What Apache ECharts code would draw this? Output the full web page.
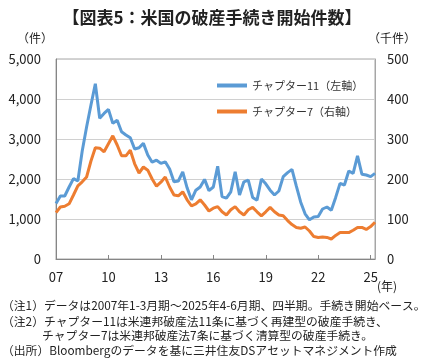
<!DOCTYPE html>
<html><head><meta charset="utf-8">
<script src="https://cdn.jsdelivr.net/npm/echarts@6/dist/echarts.min.js"></script>
<style>html,body{margin:0;padding:0;background:#fff}#c{width:424px;height:360px}</style>
</head><body><div id="c"></div>
<script>
const categories = [
'2007Q1','2007Q2','2007Q3','2007Q4','2008Q1','2008Q2','2008Q3','2008Q4','2009Q1','2009Q2','2009Q3','2009Q4',
'2010Q1','2010Q2','2010Q3','2010Q4','2011Q1','2011Q2','2011Q3','2011Q4','2012Q1','2012Q2','2012Q3','2012Q4',
'2013Q1','2013Q2','2013Q3','2013Q4','2014Q1','2014Q2','2014Q3','2014Q4','2015Q1','2015Q2','2015Q3','2015Q4',
'2016Q1','2016Q2','2016Q3','2016Q4','2017Q1','2017Q2','2017Q3','2017Q4','2018Q1','2018Q2','2018Q3','2018Q4',
'2019Q1','2019Q2','2019Q3','2019Q4','2020Q1','2020Q2','2020Q3','2020Q4','2021Q1','2021Q2','2021Q3','2021Q4',
'2022Q1','2022Q2','2022Q3','2022Q4','2023Q1','2023Q2','2023Q3','2023Q4','2024Q1','2024Q2','2024Q3','2024Q4',
'2025Q1','2025Q2'];
// Chapter 11 (cases, left axis)
const chapter11 = [1390,1575,1575,1800,2010,1950,2700,3300,3850,4380,
3520,3640,3740,3390,3470,3180,3100,3030,2750,2780,
2890,2600,2420,2470,2390,2430,2250,1930,1950,2180,
1780,1480,1720,1800,1990,1710,1800,2320,1560,1520,
1680,2180,1600,1930,1970,1540,1470,2000,1880,1720,
1600,1700,2060,2160,2240,1820,1420,1130,980,1050,
1060,1250,1300,1220,1540,1890,1850,2200,2140,2580,
2120,2100,2060,2140];
// Chapter 7 (thousand cases, right axis)
const chapter7 = [116,130,132,138,160,183,193,205,245,278,
277,268,288,308,285,258,258,272,238,215,
230,222,200,182,192,205,180,160,158,168,
148,133,138,148,135,120,127,131,118,110,
123,131,118,110,123,129,118,108,118,129,
118,110,108,96,86,79,77,80,70,56,
54,55,54,50,59,66,66,66,72,79,
79,74,81,92];
const xTickLabels = ['07','10','13','16','19','22','25'];
const seriesNames = ['チャプター11（左軸）','チャプター7（右軸）'];
const notes = [
'（注1）データは2007年1-3月期～2025年4-6月期、四半期。手続き開始ベース。',
'（注2）チャプター11は米連邦破産法11条に基づく再建型の破産手続き、',
'チャプター7は米連邦破産法7条に基づく清算型の破産手続き。',
'（出所）Bloombergのデータを基に三井住友DSアセットマネジメント作成'];

const FONT = '"Noto Sans CJK JP","Noto Sans",sans-serif';
const chart = echarts.init(document.getElementById('c'), null, {renderer:'canvas'});
chart.setOption({
  animation:false,
  backgroundColor:'#fff',
  grid:{left:56, right:49, top:59, bottom:101, show:true, borderColor:'#a6a6a6', borderWidth:1},
  legend:{
    orient:'vertical', left:212, top:75, itemWidth:30, itemHeight:4, itemGap:15, icon:'rect',
    textStyle:{fontSize:11, color:'#333', fontFamily:FONT}, data:seriesNames
  },
  xAxis:{
    type:'category', data:categories, boundaryGap:false,
    axisLine:{lineStyle:{color:'#868686', width:1}},
    axisTick:{inside:true, interval:11, length:4, lineStyle:{color:'#868686'}},
    axisLabel:{interval:11, color:'#222', fontSize:13, fontFamily:FONT, margin:12,
      formatter:(v,i)=>xTickLabels[Math.round(i/12)]},
    splitLine:{show:false}
  },
  yAxis:[
    {type:'value', min:0, max:5000, interval:1000,
     axisLine:{show:true, lineStyle:{color:'#868686'}}, axisTick:{show:false},
     axisLabel:{color:'#222', fontSize:13, fontFamily:FONT, margin:15, formatter:v=>v.toLocaleString('en-US')},
     splitLine:{lineStyle:{color:'#d0d0d0', width:1}}},
    {type:'value', min:0, max:500, interval:100,
     axisLine:{show:true, lineStyle:{color:'#a6a6a6'}}, axisTick:{show:false},
     axisLabel:{color:'#222', fontSize:13, fontFamily:FONT, margin:12},
     splitLine:{show:false}}
  ],
  series:[
    {name:seriesNames[0], type:'line', yAxisIndex:0, data:chapter11, symbol:'none',
     lineStyle:{color:'#5B9BD5', width:3}, itemStyle:{color:'#5B9BD5'}},
    {name:seriesNames[1], type:'line', yAxisIndex:1, data:chapter7, symbol:'none',
     lineStyle:{color:'#ED7D31', width:3}, itemStyle:{color:'#ED7D31'}}
  ],
  graphic:[
    {type:'text', left:'center', top:9, style:{text:'【図表5：米国の破産手続き開始件数】', font:'bold 17px '+FONT, fill:'#222'}},
    {type:'text', left:17, top:32, style:{text:'（件）', font:'12px '+FONT, fill:'#222'}},
    {type:'text', left:368, top:32, style:{text:'（千件）', font:'12px '+FONT, fill:'#222'}},
    {type:'text', left:377, top:280, style:{text:'(年)', font:'12px '+FONT, fill:'#222'}},
    {type:'text', left:2, top:300, style:{text:notes[0], font:'11.8px '+FONT, fill:'#222'}},
    {type:'text', left:2, top:316, style:{text:notes[1], font:'11.8px '+FONT, fill:'#222'}},
    {type:'text', left:42, top:330, style:{text:notes[2], font:'11.8px '+FONT, fill:'#222'}},
    {type:'text', left:2, top:345, style:{text:notes[3], font:'11.8px '+FONT, fill:'#222'}}
  ]
});
</script></body></html>
